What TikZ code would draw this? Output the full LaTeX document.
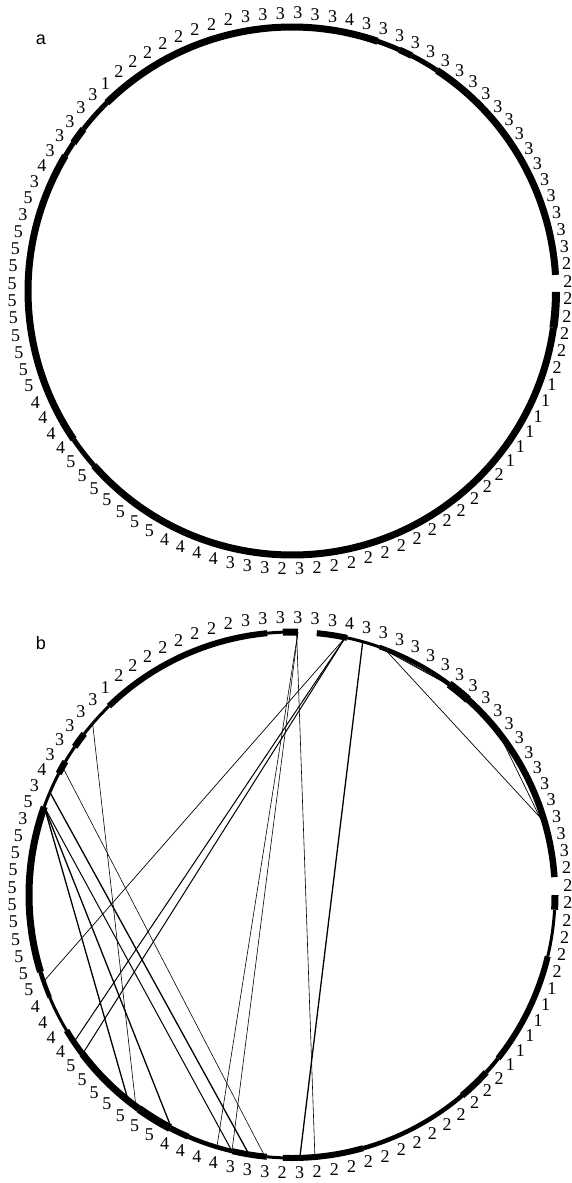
\documentclass[tikz,border=0pt]{standalone}
\usepackage{fontspec}
\setmainfont{Liberation Serif}
\newfontfamily\panelfont{Liberation Sans}
\usetikzlibrary{calc}

\tikzset{
  ring/.style={line width=#1, line cap=butt},
  chord/.style={line width=#1},
  digit/.style={font=\fontsize{18}{18}\selectfont, inner sep=0pt},
  panel/.style={font=\panelfont\fontsize{18}{18}\selectfont, inner sep=0pt}
}
% one digit per position, clockwise from the top
\newcommand\bandlist{3,3,3,4,3,3,3,3,3,3,3,3,3,3,3,3,3,3,3,3,3,3,3,2,2,2,2,2,2,2,1,1,1,1,1,1,2,2,2,2,2,2,2,2,2,2,2,2,2,3,2,3,3,3,4,4,4,4,5,5,5,5,5,5,5,4,4,4,4,5,5,5,5,5,5,5,5,5,5,3,5,3,4,3,3,3,3,3,1,2,2,2,2,2,2,2,2,3,3,3}

\begin{document}
\begin{tikzpicture}[x=1pt, y=-1pt]
    \useasboundingbox (0,0) rectangle (571,1183);

    % Panel a
    \node[panel] (pa) at (41,40) {a};
    \begin{scope}[shift={(292,291)}, y=1pt]
        \foreach \s/\e/\w in {3.5/56.7/7, 56.7/63/5, 63/66/6.5, 66/71.1/5, 71.1/134.5/7, 134.5/142.2/5,
                              142.2/145.9/7, 145.9/149.2/5, 149.2/214.2/7, 214.2/221.4/5, 221.4/352/7, 352/359.8/8}
            \draw[ring=\w pt] (\s:264) arc[start angle=\s, end angle=\e, radius=264];
    \end{scope}
    \begin{scope}[shift={(290,291)}, y=1pt]
        \foreach \d [count=\k from 0] in \bandlist
            \node[digit] (a\k) at ({88.4-3.6*\k}:278) {\d};
    \end{scope}

    % Panel b
    \node[panel] (pb) at (41,643) {b};
    \begin{scope}[shift={(292,895)}, y=1pt]
        % chords
        \foreach \s/\e/\w [count=\i] in {88.7/253.4/0.6, 88.7/256.8/0.6, 89/275/0.6, 78.3/199.2/0.7,
                                        78.3/214/1, 78.3/217.2/1, 74.4/271.7/1.3, 71/52/0.7, 69.5/52.5/0.7,
                                        69.4/16/0.7, 38.4/13.6/0.7, 139.3/233.6/0.6, 150.8/264.1/0.6,
                                        160.4/231.5/1.3, 160.4/242.8/1.3, 160.4/256.8/1, 157/260.6/1.3} {
            \coordinate (s\i) at (\s:263);
            \coordinate (e\i) at (\e:263);
            \draw[chord=\w pt] (s\i) -- (e\i);
        }
        % ring
        \foreach \s/\e/\w in {356.8/360/7, 346.5/356.8/3, 321.6/346.5/6, 317.6/321.6/4, 310.3/317.6/6.5,
                              285.7/310.3/4.5, 268/285.7/6, 264.5/268/3, 256.9/264.5/6, 246.8/256.9/4.5,
                              242.4/246.8/6, 234.4/242.4/8, 217.1/234.4/7, 211/217.1/6, 202.9/211/3,
                              197/202.9/4.5, 160.4/197/7, 152.5/160.4/3, 149.5/152.5/6.5, 145.7/149.5/3,
                              142.2/145.7/6.5, 134.1/142.2/3, 95.4/134.1/6, 92/95.4/3, 88.7/92/7,
                              77.9/84.6/6, 70.6/77.9/3, 53.3/70.6/4.5, 48/53.3/8, 3.9/48/6.5}
            \draw[ring=\w pt] (\s:263) arc[start angle=\s, end angle=\e, radius=263];
    \end{scope}
    \begin{scope}[shift={(290,895)}, y=1pt]
        \foreach \d [count=\k from 0] in \bandlist
            \node[digit] (b\k) at ({88.4-3.6*\k}:278) {\d};
    \end{scope}
\end{tikzpicture}
\end{document}
